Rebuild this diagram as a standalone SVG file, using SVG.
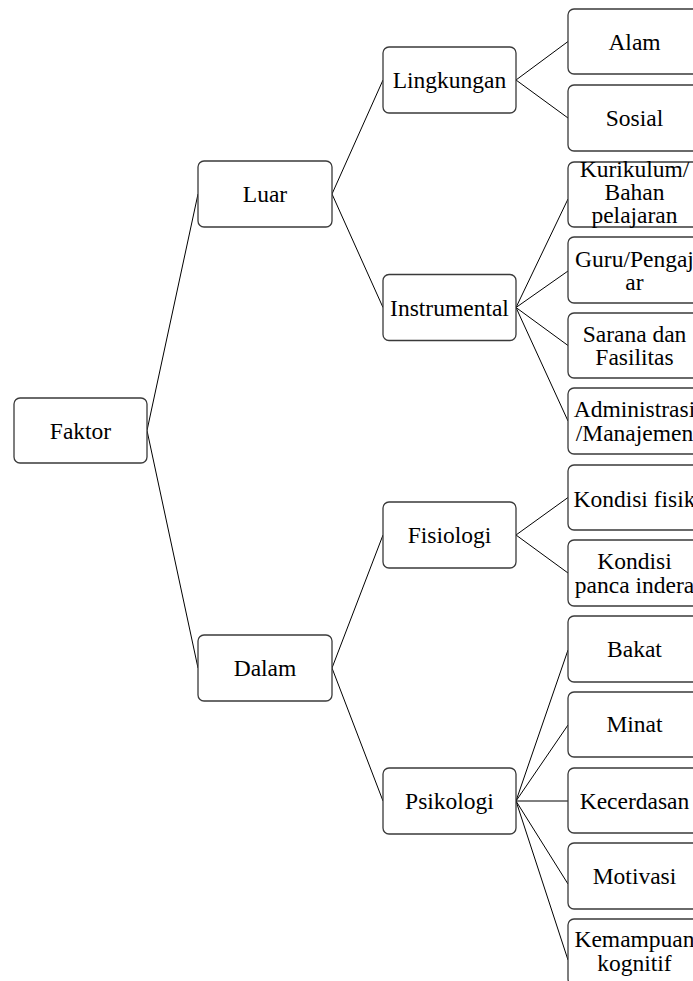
<svg xmlns="http://www.w3.org/2000/svg" width="693" height="981" viewBox="0 0 693 981">
<style>
.box{fill:#fff;stroke:#3a3a3a;stroke-width:1.3}
.t{font-family:"Liberation Serif","Times New Roman",serif;font-size:23.5px;fill:#000;text-anchor:middle}
.c line{stroke:#000;stroke-width:1}
</style>
<rect width="693" height="981" fill="#fff"/>
<g class="c" id="connectors">
<line x1="147" y1="430.5" x2="198" y2="194"/>
<line x1="147" y1="430.5" x2="198" y2="668"/>
<line x1="332" y1="194" x2="383" y2="80"/>
<line x1="332" y1="194" x2="383" y2="307.5"/>
<line x1="332" y1="668" x2="383" y2="535"/>
<line x1="332" y1="668" x2="383" y2="801"/>
<line x1="516" y1="80" x2="568" y2="41.5"/>
<line x1="516" y1="80" x2="568" y2="118"/>
<line x1="516" y1="307.5" x2="568" y2="199"/>
<line x1="516" y1="307.5" x2="568" y2="271"/>
<line x1="516" y1="307.5" x2="568" y2="345.5"/>
<line x1="516" y1="307.5" x2="568" y2="421"/>
<line x1="516" y1="535" x2="568" y2="497.5"/>
<line x1="516" y1="535" x2="568" y2="573"/>
<line x1="516" y1="801" x2="568" y2="650"/>
<line x1="516" y1="801" x2="568" y2="725"/>
<line x1="516" y1="801" x2="568" y2="801"/>
<line x1="516" y1="801" x2="568" y2="884"/>
<line x1="516" y1="801" x2="568" y2="960"/>
</g>
<g id="faktor"><rect class="box" x="14" y="398" width="133" height="65" rx="6"/><text class="t" x="80.5" y="438.5">Faktor</text></g>
<g id="luar"><rect class="box" x="198" y="161" width="134" height="66" rx="6"/><text class="t" x="265" y="202">Luar</text></g>
<g id="dalam"><rect class="box" x="198" y="635" width="134" height="66" rx="6"/><text class="t" x="265" y="676">Dalam</text></g>
<g id="lingkungan"><rect class="box" x="383" y="47" width="133" height="66" rx="6"/><text class="t" x="449.5" y="88">Lingkungan</text></g>
<g id="instrumental"><rect class="box" x="383" y="274.5" width="133" height="66" rx="6"/><text class="t" x="449.5" y="315.5">Instrumental</text></g>
<g id="fisiologi"><rect class="box" x="383" y="502" width="133" height="66" rx="6"/><text class="t" x="449.5" y="543">Fisiologi</text></g>
<g id="psikologi"><rect class="box" x="383" y="768" width="133" height="66" rx="6"/><text class="t" x="449.5" y="809">Psikologi</text></g>
<g id="alam"><rect class="box" x="568" y="9" width="133" height="65" rx="6"/><text class="t" x="634.5" y="50">Alam</text></g>
<g id="sosial"><rect class="box" x="568" y="85" width="133" height="66" rx="6"/><text class="t" x="634.5" y="126">Sosial</text></g>
<g id="kurikulum"><rect class="box" x="568" y="162" width="133" height="65" rx="6"/><text class="t" x="634.5" y="177">Kurikulum/</text><text class="t" x="634.5" y="200">Bahan</text><text class="t" x="634.5" y="223">pelajaran</text></g>
<g id="guru"><rect class="box" x="568" y="237" width="133" height="66" rx="6"/><text class="t" x="634.5" y="266.5">Guru/Pengaj</text><text class="t" x="634.5" y="290">ar</text></g>
<g id="sarana"><rect class="box" x="568" y="313" width="133" height="65" rx="6"/><text class="t" x="634.5" y="341.5">Sarana dan</text><text class="t" x="634.5" y="365">Fasilitas</text></g>
<g id="administrasi"><rect class="box" x="568" y="388" width="133" height="66" rx="6"/><text class="t" x="634.5" y="417">Administrasi</text><text class="t" x="634.5" y="440.5">/Manajemen</text></g>
<g id="kondisi-fisik"><rect class="box" x="568" y="465" width="133" height="65" rx="6"/><text class="t" x="634.5" y="507">Kondisi fisik</text></g>
<g id="kondisi-panca"><rect class="box" x="568" y="540" width="133" height="66" rx="6"/><text class="t" x="634.5" y="569">Kondisi</text><text class="t" x="634.5" y="592.5">panca indera</text></g>
<g id="bakat"><rect class="box" x="568" y="616" width="133" height="66" rx="6"/><text class="t" x="634.5" y="657">Bakat</text></g>
<g id="minat"><rect class="box" x="568" y="692" width="133" height="65" rx="6"/><text class="t" x="634.5" y="732">Minat</text></g>
<g id="kecerdasan"><rect class="box" x="568" y="768" width="133" height="65" rx="6"/><text class="t" x="634.5" y="808.5">Kecerdasan</text></g>
<g id="motivasi"><rect class="box" x="568" y="843" width="133" height="66" rx="6"/><text class="t" x="634.5" y="884">Motivasi</text></g>
<g id="kemampuan"><rect class="box" x="568" y="919" width="133" height="66" rx="6"/><text class="t" x="634.5" y="947">Kemampuan</text><text class="t" x="634.5" y="970.5">kognitif</text></g>
</svg>
